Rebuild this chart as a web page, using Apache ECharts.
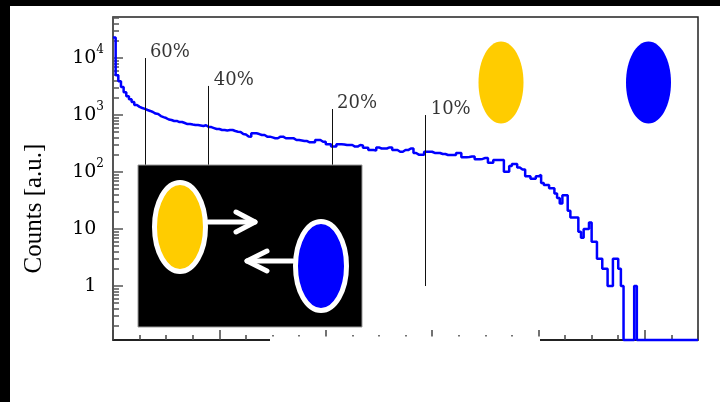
<!DOCTYPE html>
<html>
<head>
<meta charset="utf-8">
<script src="https://cdn.jsdelivr.net/npm/echarts@6/dist/echarts.min.js"></script>
<style>
  html, body { margin: 0; padding: 0; background: #fff; }
  #chart { width: 720px; height: 402px; }
</style>
</head>
<body>
<div id="chart"></div>
<script>
// Histogram binning along the horizontal axis
const BIN_WIDTH = 0.025;
const X_MIN = 0;
const X_MAX = 5.5;
const Y_MIN = 0.113;
const Y_MAX = 52500;

// Counts per bin (220 bins of width 0.025)
const counts = [
  23000, 5000, 3900, 3100, 2500, 2140, 1900, 1700, 1500, 1390,
  1330, 1280, 1225, 1180, 1130, 1060, 1040, 960, 920, 886,
  835, 817, 785, 790, 754, 754, 724, 695, 695, 680,
  668, 668, 655, 641, 660, 615, 615, 591, 568, 568,
  546, 546, 535, 546, 546, 524, 510, 503, 464, 455,
  420, 418, 478, 478, 464, 446, 446, 418, 418, 405,
  392, 392, 418, 418, 392, 392, 392, 390, 364, 364,
  357, 350, 350, 332, 332, 332, 364, 364, 340, 340,
  307, 307, 280, 280, 307, 307, 305, 298, 298, 298,
  280, 280, 298, 292, 268, 268, 243, 243, 238, 270,
  259, 259, 259, 270, 270, 243, 243, 227, 227, 243,
  243, 259, 259, 216, 202, 202, 202, 227, 227, 227,
  216, 216, 216, 207, 207, 199, 199, 199, 199, 216,
  216, 181, 181, 184, 188, 188, 168, 168, 170, 176,
  176, 146, 146, 162, 162, 162, 162, 101, 101, 127,
  138, 138, 120, 111, 111, 84, 84, 76, 76, 84,
  89, 64, 59, 59, 52, 52, 42, 35, 28, 39,
  39, 21, 16, 16, 16, 9, 7, 10, 10, 13,
  6, 6, 3, 3, 2, 2, 1, 1, 3, 3,
  2, 1, 0, 0, 0, 0, 1, 0, 0, 0,
  0, 0, 0, 0, 0, 0, 0, 0, 0, 0,
  0, 0, 0, 0, 0, 0, 0, 0, 0, 0
];

// Selection cuts: position, height of the marker line and its label
const cutPositions = [0.30, 0.90, 2.06, 2.94];
const cutHeights = [10000, 3240, 1275, 1000];
const cutLabels = ['60%', '40%', '20%', '10%'];

// Decade ticks and their labels
const decadeTicks = [1, 10, 100, 1000, 10000];
const decadeLabels = ['1', '10', '10{s|2}', '10{s|3}', '10{s|4}'];

// Minor log ticks (2..9 of each decade)
const minorTicks = [];
for (let e = -1; e <= 4; e++) {
  for (let m = 2; m <= 9; m++) {
    const v = m * Math.pow(10, e);
    if (v > Y_MIN && v < Y_MAX) minorTicks.push(v);
  }
}

// Empty bins sit on the frame floor, as on a log-scaled histogram
const stepData = counts.map((c, i) => [X_MIN + i * BIN_WIDTH, c > 0 ? c : Y_MIN]);
stepData.push([X_MAX, stepData[stepData.length - 1][1]]);

const serif = 'DejaVu Serif';
const frame = { left: 113, top: 17, right: 22, bottom: 62 };

const chart = echarts.init(document.getElementById('chart'), null, { renderer: 'canvas' });

chart.setOption({
  backgroundColor: '#fff',
  animation: false,
  grid: [
    Object.assign({ show: true, borderColor: '#222', borderWidth: 1.5 }, frame),
    // twin grid carrying the minor log ticks
    Object.assign({ show: false }, frame)
  ],
  xAxis: [
    {
      type: 'value', min: X_MIN, max: X_MAX, interval: 1,
      axisLine: { show: true, lineStyle: { color: '#111', width: 1.5 } },
      axisTick: { show: true, inside: true, length: 10, lineStyle: { color: '#444', width: 1.5 } },
      minorTick: { show: true, splitNumber: 4, length: 5, lineStyle: { color: '#444', width: 1.5 } },
      axisLabel: { show: false },
      splitLine: { show: false }
    },
    { gridIndex: 1, type: 'value', min: X_MIN, max: X_MAX, show: false }
  ],
  yAxis: [
    {
      type: 'log', min: Y_MIN, max: Y_MAX, position: 'left',
      axisLine: { show: true, lineStyle: { color: '#555', width: 1.5 } },
      axisTick: { show: true, inside: true, length: 10, customValues: decadeTicks, lineStyle: { color: '#555', width: 1.5 } },
      axisLabel: {
        show: true, margin: 9, customValues: decadeTicks,
        formatter: function (v) {
          const i = decadeTicks.findIndex(t => Math.abs(t - v) / t < 1e-6);
          const txt = i >= 0 ? decadeLabels[i] : '';
          return txt.indexOf('{s|') >= 0 ? '{b|' + txt.replace('{s|', '}{s|') : '{b|' + txt + '}{h|0}';
        },
        rich: {
          b: { fontFamily: serif, fontSize: 19, color: '#000', lineHeight: 28 },
          s: { fontFamily: serif, fontSize: 12, color: '#000', lineHeight: 12, verticalAlign: 'top' },
          h: { fontFamily: serif, fontSize: 12, color: 'rgba(0,0,0,0)', lineHeight: 12, verticalAlign: 'top' }
        }
      },
      splitLine: { show: false },
      name: 'Counts [a.u.]',
      nameLocation: 'middle',
      nameRotate: 90,
      nameGap: 66,
      nameTextStyle: { fontFamily: 'Liberation Serif', fontSize: 25, color: '#000', padding: [0, 60, 0, 0] }
    },
    {
      gridIndex: 1, type: 'log', min: Y_MIN, max: Y_MAX, position: 'left',
      axisLine: { show: false },
      axisTick: { show: true, inside: true, length: 6, customValues: minorTicks, lineStyle: { color: '#555', width: 1.5 } },
      axisLabel: { show: false },
      splitLine: { show: false }
    }
  ],
  series: [
    {
      type: 'line',
      data: stepData,
      step: 'end',
      showSymbol: false,
      clip: false,
      lineStyle: { color: '#0000ff', width: 2.5 },
      z: 3
    },
    {
      type: 'scatter',
      symbolSize: 0,
      data: cutPositions.map((x, i) => [x, cutHeights[i], cutLabels[i]]),
      label: {
        show: true, position: [5, 3], align: 'left', verticalAlign: 'bottom',
        formatter: p => p.value[2],
        fontFamily: serif, fontSize: 18, color: '#000'
      },
      markLine: {
        silent: true, symbol: 'none', animation: false,
        lineStyle: { color: '#111', width: 1, type: 'solid' },
        label: { show: false },
        data: cutPositions.map((x, i) => [{ coord: [x, 1] }, { coord: [x, cutHeights[i]] }])
      },
      z: 4
    }
  ],
  graphic: [
    // dark outer margins
    { type: 'rect', shape: { x: 0, y: 0, width: 720, height: 6 }, style: { fill: '#000' }, z: 200 },
    { type: 'rect', shape: { x: 0, y: 0, width: 10, height: 402 }, style: { fill: '#000' }, z: 200 },
    // gap in the lower frame line
    { type: 'rect', shape: { x: 270, y: 336.5, width: 270, height: 6 }, style: { fill: '#fff' }, z: 100 },
    // the two nuclei above the curve
    { type: 'ellipse', shape: { cx: 501, cy: 82.5, rx: 22.5, ry: 41 }, style: { fill: '#ffcc00' }, z: 100 },
    { type: 'ellipse', shape: { cx: 648.5, cy: 82.5, rx: 22.5, ry: 41 }, style: { fill: '#0000ff' }, z: 100 },
    // inset: collision sketch
    { type: 'rect', shape: { x: 138, y: 165, width: 224, height: 162 }, style: { fill: '#000', stroke: '#999', lineWidth: 1 }, z: 100 },
    { type: 'ellipse', shape: { cx: 180, cy: 227, rx: 25.5, ry: 44.5 }, style: { fill: '#ffcc00', stroke: '#fff', lineWidth: 5 }, z: 101 },
    { type: 'ellipse', shape: { cx: 321, cy: 266, rx: 25.5, ry: 44.5 }, style: { fill: '#0000ff', stroke: '#fff', lineWidth: 5 }, z: 101 },
    { type: 'polyline', shape: { points: [[208, 222], [255, 222]] }, style: { stroke: '#fff', lineWidth: 5, lineCap: 'round' }, z: 101 },
    { type: 'polyline', shape: { points: [[236, 212], [255, 222], [236, 232]] }, style: { stroke: '#fff', lineWidth: 5, lineCap: 'round', lineJoin: 'round', fill: null }, z: 101 },
    { type: 'polyline', shape: { points: [[293, 261], [247, 261]] }, style: { stroke: '#fff', lineWidth: 5, lineCap: 'round' }, z: 101 },
    { type: 'polyline', shape: { points: [[267, 251], [247, 261], [267, 271]] }, style: { stroke: '#fff', lineWidth: 5, lineCap: 'round', lineJoin: 'round', fill: null }, z: 101 }
  ]
});
</script>
</body>
</html>
